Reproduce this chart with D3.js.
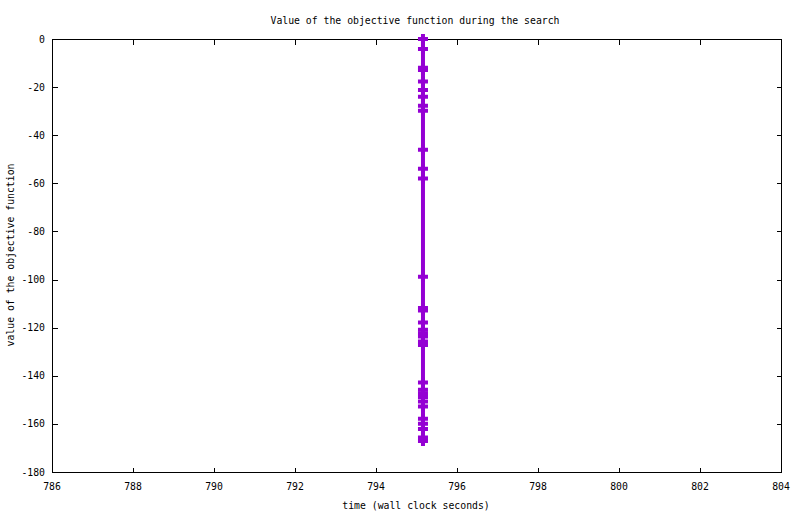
<!DOCTYPE html>
<html>
<head>
<meta charset="utf-8">
<script src="https://cdn.jsdelivr.net/npm/d3@7/dist/d3.min.js"></script>
<style>
  html, body { margin: 0; padding: 0; background: #fff; }
  svg { display: block; }
  text { font-family: "DejaVu Sans Mono", monospace; font-size: 9.8px; fill: #000; }
</style>
</head>
<body>
<svg id="chart" width="800" height="514"></svg>
<script>
// ---- data ----
const times = [
  795.16, 795.16, 795.16, 795.16, 795.16, 795.16, 795.16, 795.16,
  795.16, 795.16, 795.16, 795.16, 795.16, 795.16, 795.16, 795.16,
  795.16, 795.16, 795.16, 795.16, 795.16, 795.16, 795.16, 795.16,
  795.16, 795.16, 795.16, 795.16, 795.16, 795.16, 795.16, 795.16
];
const values = [
  0, -4.2, -12.0, -12.9, -17.7, -21.2, -24.0, -27.7,
  -29.8, -46.0, -53.9, -58.0, -98.8, -111.8, -112.9, -117.9,
  -120.9, -122.3, -123.7, -125.8, -127.2, -142.8, -145.8, -147.3,
  -148.8, -150.7, -152.8, -157.9, -159.9, -162.1, -165.7, -167.1
];
const xTicks = [786, 788, 790, 792, 794, 796, 798, 800, 802, 804];
const yTicks = [0, -20, -40, -60, -80, -100, -120, -140, -160, -180];
const title = "Value of the objective function during the search";
const xLabel = "time (wall clock seconds)";
const yLabel = "value of the objective function";
const color = "#9400d3";

// ---- layout ----
const L = 52, R = 781, T = 39, B = 472;
const svg = d3.select("#chart");
const x = d3.scaleLinear().domain([786, 804]).range([L, R]);
const y = d3.scaleLinear().domain([-180, 0]).range([B, T]);
const tk = 5;

const g = svg.append("g").attr("shape-rendering", "crispEdges");
// frame
g.append("rect").attr("x", L + 0.5).attr("y", T + 0.5)
  .attr("width", R - L).attr("height", B - T)
  .attr("fill", "none").attr("stroke", "#000").attr("stroke-width", 1);

// x ticks (bottom & mirrored top)
xTicks.forEach(v => {
  const px = Math.round(x(v)) + 0.5;
  if (v !== 786 && v !== 804) {
    g.append("line").attr("x1", px).attr("x2", px).attr("y1", B + 0.5).attr("y2", B + 0.5 - tk).attr("stroke", "#000");
    g.append("line").attr("x1", px).attr("x2", px).attr("y1", T + 0.5).attr("y2", T + 0.5 + tk).attr("stroke", "#000");
  }
  svg.append("text").attr("x", x(v)).attr("y", 489.5).attr("text-anchor", "middle").text(v);
});
// y ticks (left & mirrored right)
yTicks.forEach(v => {
  const py = Math.round(y(v)) + 0.5;
  if (v !== 0 && v !== -180) {
    g.append("line").attr("x1", L + 0.5).attr("x2", L + 0.5 + tk).attr("y1", py).attr("y2", py).attr("stroke", "#000");
    g.append("line").attr("x1", R + 0.5).attr("x2", R + 0.5 - tk).attr("y1", py).attr("y2", py).attr("stroke", "#000");
  }
  svg.append("text").attr("x", 45).attr("y", y(v) + 3.5).attr("text-anchor", "end").text(String(v));
});

// titles
svg.append("text").attr("x", 415).attr("y", 23.5).attr("text-anchor", "middle").text(title);
svg.append("text").attr("x", 416).attr("y", 508.5).attr("text-anchor", "middle").text(xLabel);
svg.append("text").attr("transform", "translate(13.5,255) rotate(-90)").attr("text-anchor", "middle").text(yLabel);

// data
const pts = values.map((v, i) => [times[i], v]);
const line = d3.line().x(d => x(d[0])).y(d => y(d[1]));
svg.append("path").datum(pts).attr("d", line)
  .attr("fill", "none").attr("stroke", color).attr("stroke-width", 4);
svg.append("g").selectAll("path.pt").data(pts).join("path")
  .attr("class", "pt")
  .attr("transform", d => `translate(${x(d[0])},${y(d[1])})`)
  .attr("d", "M-5,0H5M0,-5V5")
  .attr("fill", "none").attr("stroke", color).attr("stroke-width", 4)
  .attr("stroke-linecap", "butt");
</script>
</body>
</html>
